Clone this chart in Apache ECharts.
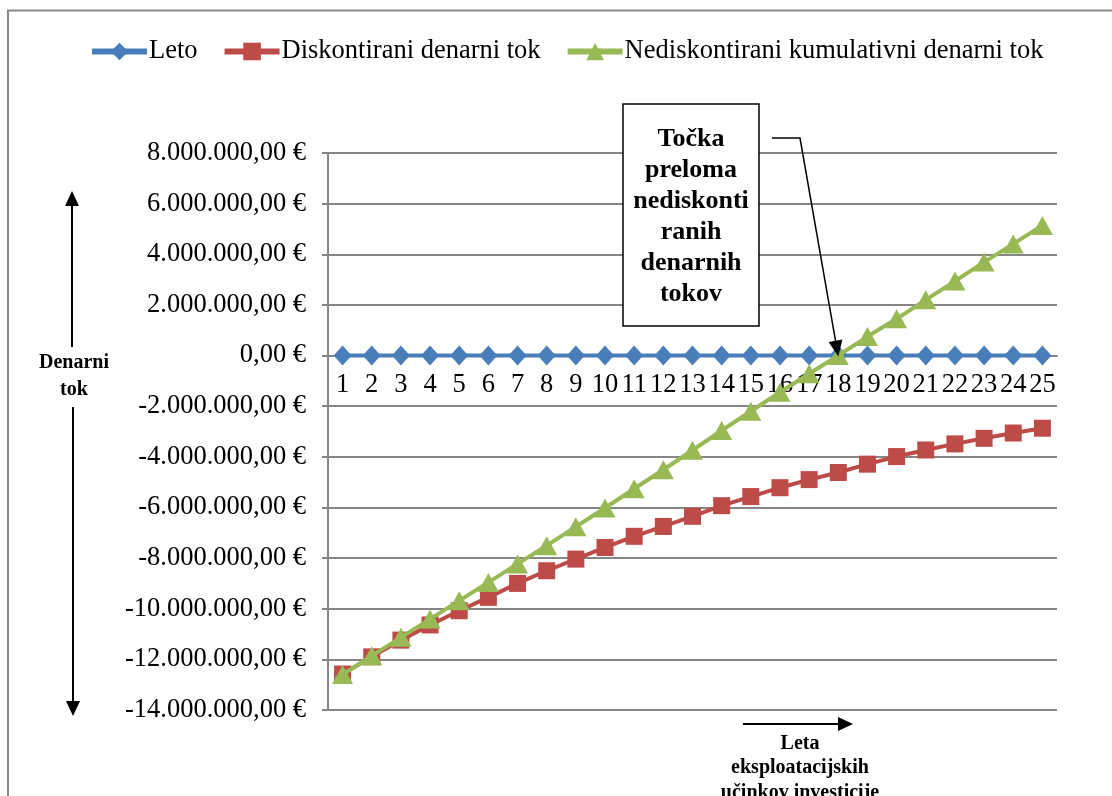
<!DOCTYPE html>
<html>
<head>
<meta charset="utf-8">
<script src="https://cdn.jsdelivr.net/npm/echarts@6/dist/echarts.min.js"></script>
<style>
html,body{margin:0;padding:0;background:#fff;}
#c{width:1112px;height:796px;}
</style>
</head>
<body>
<div id="c"></div>
<script>
const years = ['1','2','3','4','5','6','7','8','9','10','11','12','13','14','15','16','17','18','19','20','21','22','23','24','25'];
const leto = [0,0,0,0,0,0,0,0,0,0,0,0,0,0,0,0,0,0,0,0,0,0,0,0,0];
const diskontirani = [-12580000,-11900000,-11240000,-10640000,-10080000,-9550000,-9000000,-8500000,-8040000,-7580000,-7140000,-6750000,-6350000,-5930000,-5570000,-5220000,-4900000,-4620000,-4290000,-3990000,-3730000,-3490000,-3270000,-3060000,-2870000];
const nediskontirani = [-12600000,-11860000,-11130000,-10410000,-9680000,-8960000,-8230000,-7510000,-6760000,-6020000,-5260000,-4510000,-3740000,-2960000,-2200000,-1450000,-720000,0,750000,1450000,2200000,2940000,3690000,4410000,5140000];
const seriesNames = ['Leto','Diskontirani denarni tok','Nediskontirani kumulativni denarni tok'];
const annotationLines = ['Točka','preloma','nediskonti','ranih','denarnih','tokov'];
const yTitle = 'Denarni\ntok';
const xTitle = 'Leta\neksploatacijskih\nučinkov investicije';

const SERIF = '"Liberation Serif","Times New Roman",serif';
function fmt(v){
  const neg = v < 0;
  const s = Math.abs(v).toFixed(2);
  const parts = s.split('.');
  return (neg ? '-' : '') + parts[0].replace(/\B(?=(\d{3})+(?!\d))/g, '.') + ',' + parts[1] + ' €';
}

const chart = echarts.init(document.getElementById('c'), null, {renderer:'canvas'});
const grey = '#868686';
const GRID_TOP = 153, GRID_H = 557;

const option = {
  animation: false,
  backgroundColor: '#fff',
  color: ['#4A7EBB','#BE4B48','#98B954'],
  legend: {
    left: 89, top: 38, padding: 0,
    itemWidth: 55, itemHeight: 22, itemGap: 24,
    lineStyle: {width: 6},
    textStyle: {fontFamily: SERIF, fontSize: 26.5, color: '#000', padding: [0,0,0,-3]},
    data: seriesNames
  },
  grid: {left: 328, top: GRID_TOP, width: 729, height: GRID_H, containLabel: false},
  xAxis: {
    type: 'category', data: years, boundaryGap: true,
    axisLine: {onZero: false, lineStyle: {color: grey, width: 2}},
    axisTick: {show: false},
    axisLabel: {interval: 0, fontFamily: SERIF, fontSize: 26.5, color: '#000', margin: 16},
    splitLine: {show: false}
  },
  yAxis: {
    type: 'value', min: -14000000, max: 8000000, interval: 2000000,
    axisLine: {show: true, lineStyle: {color: grey, width: 2}},
    axisTick: {show: true, length: 6, lineStyle: {color: grey, width: 2}},
    axisLabel: {formatter: fmt, fontFamily: SERIF, fontSize: 26.5, color: '#000', margin: 22},
    splitLine: {lineStyle: {color: grey, width: 2}}
  },
  series: [
    {name: seriesNames[0], type: 'line', data: leto, symbol: 'diamond', symbolSize: [18,20],
     lineStyle: {width: 4}, itemStyle: {color: '#4A7EBB'}, z: 2},
    {name: seriesNames[1], type: 'line', data: diskontirani, symbol: 'rect', symbolSize: 17,
     lineStyle: {width: 4}, itemStyle: {color: '#BE4B48'}, z: 3},
    {name: seriesNames[2], type: 'line', data: nediskontirani, symbol: 'triangle', symbolSize: [21,19],
     lineStyle: {width: 4}, itemStyle: {color: '#98B954'}, z: 4}
  ]
};
chart.setOption(option);

// place the category axis (with its labels) on the zero line, as in the reference
const y0 = chart.convertToPixel({yAxisIndex: 0}, 0);
chart.setOption({xAxis: {offset: y0 - (GRID_TOP + GRID_H)}});

const tip = chart.convertToPixel({seriesIndex: 2}, [17, nediskontirani[17]]);
const tipX = tip[0], tipY = tip[1] + 1;
const sx = 800, sy = 138;
const ang = Math.atan2(tipY - sy, tipX - sx);
const hl = 16, hw = 7;
const bx = tipX - hl*Math.cos(ang), by = tipY - hl*Math.sin(ang);
const px = -Math.sin(ang), py = Math.cos(ang);

chart.setOption({
  graphic: [
    {type: 'rect', shape: {x: 8, y: 10.5, width: 1300, height: 1000}, style: {fill: 'none', stroke: '#888', lineWidth: 2}, z: 1, silent: true},
    {type: 'rect', shape: {x: 623, y: 104, width: 136, height: 222}, style: {fill: '#fff', stroke: '#000', lineWidth: 1.5}, z: 50},
    {type: 'text', x: 691, y: 217, style: {text: annotationLines.join('\n'), font: 'bold 26px ' + SERIF, fill: '#000', textAlign: 'center', textVerticalAlign: 'middle', lineHeight: 31}, z: 51},
    {type: 'polyline', shape: {points: [[772,138],[sx,sy],[bx,by]]}, style: {stroke: '#000', lineWidth: 1.5, fill: 'none'}, z: 60},
    {type: 'polygon', shape: {points: [[tipX,tipY],[bx+px*hw,by+py*hw],[bx-px*hw,by-py*hw]]}, style: {fill: '#000'}, z: 60},
    // y-axis title with arrows
    {type: 'line', shape: {x1: 72, y1: 347, x2: 72, y2: 205}, style: {stroke: '#000', lineWidth: 2}, z: 50},
    {type: 'polygon', shape: {points: [[72,191],[65,206],[79,206]]}, style: {fill: '#000'}, z: 50},
    {type: 'line', shape: {x1: 73, y1: 407, x2: 73, y2: 702}, style: {stroke: '#000', lineWidth: 2}, z: 50},
    {type: 'polygon', shape: {points: [[73,716],[66,701],[80,701]]}, style: {fill: '#000'}, z: 50},
    {type: 'text', x: 74, y: 376, style: {text: yTitle, font: 'bold 20px ' + SERIF, fill: '#000', textAlign: 'center', textVerticalAlign: 'middle', lineHeight: 27}, z: 50},
    // x-axis title with arrow
    {type: 'line', shape: {x1: 743, y1: 724, x2: 840, y2: 724}, style: {stroke: '#000', lineWidth: 2}, z: 50},
    {type: 'polygon', shape: {points: [[853,724],[838,717],[838,731]]}, style: {fill: '#000'}, z: 50},
    {type: 'text', x: 800, y: 768, style: {text: xTitle, font: 'bold 20px ' + SERIF, fill: '#000', textAlign: 'center', textVerticalAlign: 'middle', lineHeight: 24.5}, z: 50}
  ]
});
</script>
</body>
</html>
